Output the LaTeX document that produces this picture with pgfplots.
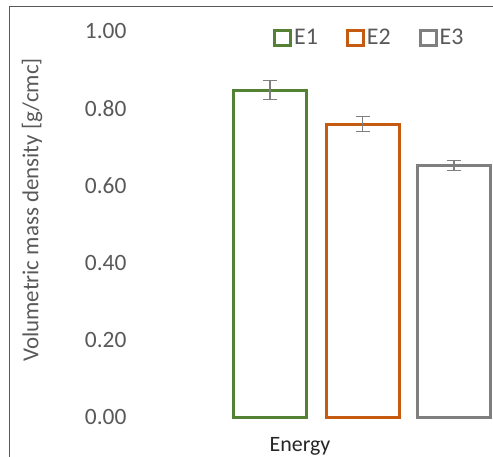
\documentclass[border=0pt]{standalone}
\usepackage{fontspec}
\setmainfont{Carlito}
\usepackage{pgfplots}
\pgfplotsset{compat=1.18}
\definecolor{cgreen}{HTML}{548235}
\definecolor{corange}{HTML}{C55A11}
\definecolor{cgray}{HTML}{7F7F7F}
\definecolor{ctick}{HTML}{595959}
\begin{document}
\begin{tikzpicture}
\begin{axis}[
  scale only axis, width=493bp, height=457bp,
  xmin=0, xmax=493, ymin=-0.1036, ymax=1.0803,
  clip=false,
  axis line style={draw=none}, tick style={draw=none},
  ytick={0,0.2,0.4,0.6,0.8,1.0},
  yticklabel style={font=\fontsize{23.5}{26}\selectfont, color=ctick, anchor=east, xshift=130bp},
  /pgf/number format/assume math mode=true,
  /pgf/number format/.cd, fixed, fixed zerofill, precision=2, /pgfplots/.cd,
  xtick=\empty,
  ylabel={Volumetric mass density [g/cmc]},
  every axis y label/.style={at={(rel axis cs:0.0649,0.5405)}, rotate=90, anchor=center, font=\fontsize{23}{26}\selectfont, color=ctick},
  xlabel={Energy},
  every axis x label/.style={at={(rel axis cs:0.6085,0.0131)}, anchor=base, font=\fontsize{22}{26}\selectfont, color=black!85},
  ybar, bar width=73,
  legend columns=3,
  legend style={at={(axis cs:270,0.983)}, anchor=west, draw=none, fill=none, font=\fontsize{24}{26}\selectfont, text=ctick, /tikz/every even column/.append style={column sep=26bp}},
  legend image code/.code={\draw[#1, line width=3bp, fill=white] (0bp,-7.5bp) rectangle (16bp,7.5bp);},
  error bars/y dir=both, error bars/y explicit,
  error bars/error bar style={line width=1.5bp, color=cgray},
  error bars/error mark options={rotate=90, mark size=7bp, line width=1.5bp, color=cgray},
]
\addplot[bar shift=0pt, draw=cgreen, fill=white, line width=3bp] coordinates {(270,0.847) +- (0,0.025)};
\addlegendentry{E1}
\addplot[bar shift=0pt, draw=corange, fill=white, line width=3bp] coordinates {(362.5,0.759) +- (0,0.02)};
\addlegendentry{E2}
\addplot[bar shift=0pt, draw=cgray, fill=white, line width=3bp] coordinates {(454,0.652) +- (0,0.013)};
\addlegendentry{E3}
\draw[color=ctick, line width=1bp] (rel axis cs:0.0193,0) -- (rel axis cs:0.0193,0.9847) -- (rel axis cs:1,0.9847);
\coordinate (bl) at (rel axis cs:0,0);
\coordinate (tr) at (rel axis cs:1,1);
\end{axis}
\pgfresetboundingbox
\path[use as bounding box] (bl) rectangle (tr);
\end{tikzpicture}
\end{document}
